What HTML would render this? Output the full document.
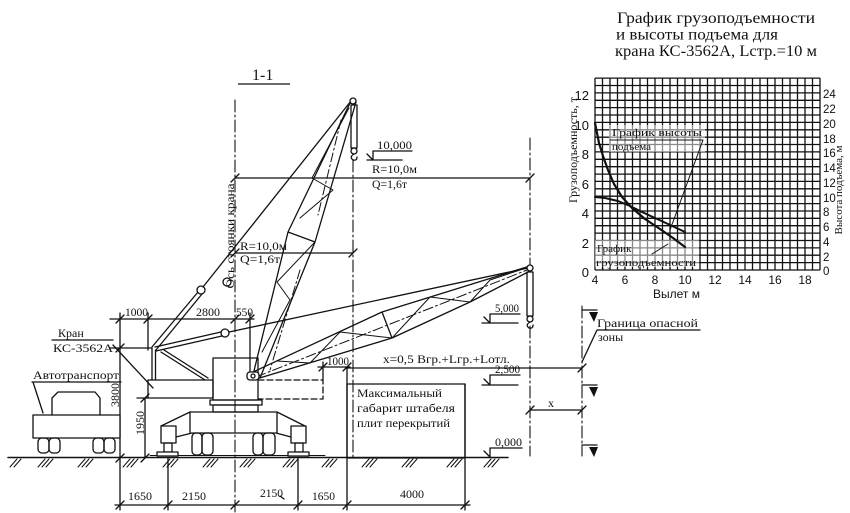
<!DOCTYPE html>
<html><head><meta charset="utf-8">
<style>
html,body{margin:0;padding:0;background:#fff;}
svg{display:block}
text{font-family:"Liberation Serif","DejaVu Serif",serif;fill:#111}
.s{font-family:"Liberation Sans","DejaVu Sans",sans-serif}
</style></head><body>
<svg width="850" height="513" viewBox="0 0 850 513" xmlns="http://www.w3.org/2000/svg">
<rect width="850" height="513" fill="#fff"/>

<!-- ===== CHART ===== -->
<g stroke="#111" stroke-width="1.3" fill="none">
<path d="M595 78V270M602.5 78V270M610 78V270M617.5 78V270M625 78V270M632.5 78V270M640 78V270M647.5 78V270M655 78V270M662.5 78V270M670 78V270M677.5 78V270M685 78V270M692.5 78V270M700 78V270M707.5 78V270M715 78V270M722.5 78V270M730 78V270M737.5 78V270M745 78V270M752.5 78V270M760 78V270M767.5 78V270M775 78V270M782.5 78V270M790 78V270M797.5 78V270M805 78V270M812.5 78V270M820 78V270"/>
<path d="M595 270H820M595 262.6H820M595 255.2H820M595 247.9H820M595 240.5H820M595 233.1H820M595 225.7H820M595 218.3H820M595 211H820M595 203.6H820M595 196.2H820M595 188.8H820M595 181.4H820M595 174.1H820M595 166.7H820M595 159.3H820M595 151.9H820M595 144.5H820M595 137.2H820M595 129.8H820M595 122.4H820M595 115H820M595 107.6H820M595 100.3H820M595 92.9H820M595 85.5H820M595 78.1H820"/>
</g>
<!-- label backgrounds -->
<rect x="609" y="125" width="96" height="27" fill="#fff" opacity="0.5"/>
<rect x="595" y="240" width="104" height="27" fill="#fff" opacity="0.5"/>
<g stroke="#111" fill="none" stroke-linecap="round" stroke-linejoin="round">
<path stroke-width="2.2" d="M595 123 L599 143 L603 156 L608 170 L614 184 L622 197 L632 208 L645 219 L660 229 L673 238 L685 247"/>
<path stroke-width="2" d="M595 197 L605 198 L618 201 L630 206 L642 212 L655 218 L668 224 L685 232"/>
<path stroke-width="1" d="M610 140 H703 L670 230 M652 254 L668 244"/>
</g>
<text x="612" y="136" font-size="11" textLength="90" lengthAdjust="spacingAndGlyphs">График высоты</text>
<text x="612" y="150" font-size="11">подъема</text>
<text x="597" y="252" font-size="11">График</text>
<text x="596" y="266" font-size="11" textLength="100" lengthAdjust="spacingAndGlyphs">грузоподъемности</text>

<g class="s" font-size="13" text-anchor="end">
<text class="s" x="589" y="277">0</text>
<text class="s" x="589" y="248">2</text>
<text class="s" x="589" y="218">4</text>
<text class="s" x="589" y="189">6</text>
<text class="s" x="589" y="159">8</text>
<text class="s" x="589" y="130">10</text>
<text class="s" x="589" y="100">12</text>
</g>
<g font-size="11.5">
<text class="s" x="823" y="275">0</text>
<text class="s" x="823" y="261">2</text>
<text class="s" x="823" y="246">4</text>
<text class="s" x="823" y="231">6</text>
<text class="s" x="823" y="216">8</text>
<text class="s" x="823" y="202">10</text>
<text class="s" x="823" y="187">12</text>
<text class="s" x="823" y="172">14</text>
<text class="s" x="823" y="157">16</text>
<text class="s" x="823" y="143">18</text>
<text class="s" x="823" y="128">20</text>
<text class="s" x="823" y="113">22</text>
<text class="s" x="823" y="98">24</text>
</g>
<g font-size="12" text-anchor="middle">
<text class="s" x="595" y="284">4</text>
<text class="s" x="625" y="284">6</text>
<text class="s" x="655" y="284">8</text>
<text class="s" x="685" y="284">10</text>
<text class="s" x="715" y="284">12</text>
<text class="s" x="745" y="284">14</text>
<text class="s" x="775" y="284">16</text>
<text class="s" x="805" y="284">18</text>
</g>
<text class="s" x="653" y="298" font-size="12">Вылет  м</text>
<text x="0" y="0" font-size="12" text-anchor="middle" transform="translate(577,150) rotate(-90)" textLength="106" lengthAdjust="spacingAndGlyphs">Грузоподъемность, т</text>
<text x="0" y="0" font-size="11" text-anchor="middle" transform="translate(842,190) rotate(-90)" fill="#555">Высота подъема, м</text>

<text x="617" y="23" font-size="16" textLength="198" lengthAdjust="spacingAndGlyphs">График грузоподъемности</text>
<text x="616" y="39.5" font-size="16" textLength="162" lengthAdjust="spacingAndGlyphs">и высоты подъема для</text>
<text x="615" y="56" font-size="16" textLength="202" lengthAdjust="spacingAndGlyphs">крана КС-3562А, Lстр.=10 м</text>

<!-- ===== MAIN DRAWING ===== -->
<text x="252" y="80" font-size="16">1-1</text>
<path d="M238 84H290" stroke="#111" stroke-width="1.3"/>

<g stroke="#111" stroke-width="1.3" fill="none" stroke-linecap="round" stroke-linejoin="round">
<!-- ground -->
<path d="M8 457.5H508" stroke-width="1.5"/>
<path d="M150 455.5H325" stroke-width="1"/>
<!-- hatches -->
<path stroke-width="1" d="
M10 467l7-8M14 467l7-8
M38 467l7-8M42 467l7-8M46 467l7-8
M78 467l7-8M82 467l7-8M86 467l7-8
M123 467l7-8M127 467l7-8M131 467l7-8
M163 467l7-8M167 467l7-8M171 467l7-8
M203 467l7-8M207 467l7-8M211 467l7-8
M240 467l7-8M244 467l7-8M248 467l7-8
M283 467l7-8M287 467l7-8M291 467l7-8
M322 467l7-8M326 467l7-8M330 467l7-8
M362 467l7-8M366 467l7-8M370 467l7-8
M402 467l7-8M406 467l7-8M410 467l7-8
M447 467l7-8M451 467l7-8M455 467l7-8
M484 467l7-8M488 467l7-8M492 467l7-8"/>

<!-- bottom dimension -->
<path d="M115 505H470"/>
<path d="M120 313V510M168 458V510M298 458V510M347 368V510M465 384V510"/>
<path d="M116 509l8-8M164 509l8-8M231 509l8-8M294 509l8-8M343 509l8-8M461 509l8-8"/>
<path d="M284 499l-4-3"/>

<!-- top dimension 1000 2800 550 -->
<path d="M110 319H254M148 313V350M250 313V374"/>
<path d="M116 323l8-8M144 323l8-8M231 323l8-8M246 323l8-8"/>
<!-- 3800 -->
<path d="M110 348H152M116 352l8-8M116 462l8-8"/>
<!-- 1950 -->
<path d="M137 398H148M145 398V458M141 402l8-8M141 462l8-8"/>
<!-- Kran leader -->
<path d="M52 340H113M113 345L153 388"/>
<!-- Avtotransport -->
<path d="M32 382H121M33 382L43 413"/>

<!-- truck -->
<rect x="33" y="415" width="87" height="23" fill="#fff"/>
<path d="M52 415V398L58 392H95L100 398V415"/>
<rect x="38" y="438" width="11" height="15" rx="4"/>
<rect x="49" y="438" width="11" height="15" rx="4"/>
<rect x="93" y="438" width="11" height="15" rx="4"/>
<rect x="104" y="438" width="11" height="15" rx="4"/>

<!-- crane base -->
<path d="M190 412H277L305 426M190 412L161 426M190 412V433M277 412V433M176 437L192 433H276L291 437"/>
<rect x="161" y="426" width="15" height="17" fill="#fff"/>
<rect x="291" y="426" width="15" height="17" fill="#fff"/>
<rect x="164" y="443" width="8" height="9"/>
<rect x="295" y="443" width="8" height="9"/>
<rect x="157" y="452" width="21" height="4" fill="#fff"/>
<rect x="288" y="452" width="21" height="4" fill="#fff"/>
<rect x="192" y="433" width="10" height="22" rx="4"/>
<rect x="202" y="433" width="11" height="22" rx="4"/>
<rect x="253" y="433" width="10" height="22" rx="4"/>
<rect x="263" y="433" width="12" height="22" rx="4"/>
<!-- cabin & platform -->
<rect x="148" y="380" width="65" height="18"/>
<rect x="213" y="358" width="45" height="42"/>
<rect x="210" y="400" width="52" height="5"/>
<rect x="213" y="405" width="45" height="7"/>
<path d="M258 380H323V399H258" stroke-dasharray="6 3"/>
<path d="M323 362V380"/>
<!-- A-frame -->
<path d="M152 348V380M155.5 350V380"/>
<path d="M161 352L205 380M164 350L208 378"/>
<path d="M152 347L198 292M156 350L202 294"/>
<circle cx="201" cy="290" r="4" fill="#fff"/>
<circle cx="227" cy="282" r="4" fill="#fff"/>
<path d="M155 347L221 332M156 351L222 336"/>
<circle cx="225" cy="333" r="4" fill="#fff"/>
<!-- ropes -->
<path d="M203 287L351 101"/>
<path d="M229 332L528 268"/>

<!-- raised boom -->
<path d="M351 101L288 232L253 375M356 102L315 242L260 378M288 232L315 242"/>
<path d="M349 108L312 178L333 190L300 218M315 242L277 282L290 300L262 352" stroke-width="1"/>
<path d="M341 120L318 215M300 270L270 370" stroke-width="1" stroke-dasharray="9 3 2 3"/>
<circle cx="353" cy="101" r="3" fill="#fff"/>
<rect x="351" y="105" width="6" height="43"/>
<circle cx="354" cy="151" r="3"/>
<path d="M354 154q-5 3-1 6q4 1 4-3"/>

<!-- lowered boom -->
<path d="M253 372L382 312L530 266M253 380L392 338L470 302L530 271M382 312L392 338"/>
<path d="M277 361L310 363L340 332L392 338M392 338L430 297L470 302L490 280L520 270" stroke-width="1"/>
<path d="M256 377L527 270" stroke-width="1" stroke-dasharray="10 3 2 3"/>
<rect x="247" y="372" width="12" height="8" rx="3" fill="#fff"/>
<circle cx="253" cy="376" r="2"/>
<circle cx="530" cy="268" r="3" fill="#fff"/>
<rect x="527" y="272" width="6" height="44"/>
<circle cx="530" cy="319" r="3"/>
<path d="M530 322q-5 3-1 6q4 1 4-3"/>

<!-- center axes (dash-dot) -->
<g stroke-dasharray="12 3 2 3" stroke-width="1.1">
<path d="M235 100V512"/>
<path d="M353 160V458"/>
<path d="M530 138V265M530 326V456"/>
<path d="M582 306V456"/>
</g>

<!-- R dims -->
<path d="M235 178H530M231 182l8-8M526 182l8-8"/>
<path d="M235 253H353M231 257l8-8M349 257l8-8"/>

<!-- level marks -->
<path d="M373 151H412M373 151V160M367 154L373 160M367 160H402"/>
<path d="M490 314H520M490 314V323M484 317L490 323M482 323H518"/>
<path d="M490 375H520M490 375V385M484 379L490 385M482 385H518"/>
<path d="M490 448H522M490 448V457M484 451L490 457"/>

<!-- right dims -->
<path d="M318 367H350M319 371l8-8M343 371l8-8"/>
<path d="M347 368H582M578 372l8-8"/>
<rect x="347" y="384" width="118" height="74" fill="none"/>
<path d="M530 410H582M526 414l8-8M578 414l8-8"/>
<!-- zone border -->
<path d="M582 310H597M582 385H597M582 445H597"/>
<path d="M597 330H700M597 330L582 362"/>
</g>
<g fill="#111">
<path d="M589 312H598L594 322Z"/>
<path d="M589 387H598L594 397Z"/>
<path d="M589 447H598L594 457Z"/>
</g>

<!-- texts -->
<g font-size="12">
<text x="125" y="316" textLength="23" lengthAdjust="spacingAndGlyphs">1000</text>
<text x="196" y="316" textLength="24" lengthAdjust="spacingAndGlyphs">2800</text>
<text x="236" y="316" textLength="17" lengthAdjust="spacingAndGlyphs">550</text>
<text x="58" y="337">Кран</text>
<text x="53" y="352" textLength="60" lengthAdjust="spacingAndGlyphs">КС-3562А</text>
<text x="33" y="379" textLength="86" lengthAdjust="spacingAndGlyphs">Автотранспорт</text>
<text x="0" y="0" transform="translate(119,395) rotate(-90)" text-anchor="middle">3800</text>
<text x="0" y="0" transform="translate(144,423) rotate(-90)" text-anchor="middle">1950</text>
<text x="0" y="0" transform="translate(234,236) rotate(-90)" text-anchor="middle" textLength="105" lengthAdjust="spacingAndGlyphs">Ось стоянки крана</text>
<text x="128" y="500" textLength="24" lengthAdjust="spacingAndGlyphs">1650</text>
<text x="182" y="500" textLength="24" lengthAdjust="spacingAndGlyphs">2150</text>
<text x="260" y="497" textLength="23" lengthAdjust="spacingAndGlyphs">2150</text>
<text x="312" y="500" textLength="23" lengthAdjust="spacingAndGlyphs">1650</text>
<text x="400" y="498" textLength="24" lengthAdjust="spacingAndGlyphs">4000</text>
<text x="377" y="149" textLength="35" lengthAdjust="spacingAndGlyphs">10,000</text>
<text x="372" y="173" textLength="45" lengthAdjust="spacingAndGlyphs">R=10,0м</text>
<text x="372" y="188" textLength="35" lengthAdjust="spacingAndGlyphs">Q=1,6т</text>
<text x="240" y="250" textLength="47" lengthAdjust="spacingAndGlyphs">R=10,0м</text>
<text x="240" y="263" textLength="40" lengthAdjust="spacingAndGlyphs">Q=1,6т</text>
<text x="327" y="365" textLength="22" lengthAdjust="spacingAndGlyphs">1000</text>
<text x="383" y="363" textLength="127" lengthAdjust="spacingAndGlyphs">x=0,5 Bгр.+Lгр.+Lотл.</text>
<text x="495" y="312" textLength="24" lengthAdjust="spacingAndGlyphs">5,000</text>
<text x="495" y="373" textLength="25" lengthAdjust="spacingAndGlyphs">2,500</text>
<text x="495" y="446" textLength="27" lengthAdjust="spacingAndGlyphs">0,000</text>
<text x="357" y="397" textLength="85" lengthAdjust="spacingAndGlyphs">Максимальный</text>
<text x="357" y="412" textLength="98" lengthAdjust="spacingAndGlyphs">габарит штабеля</text>
<text x="357" y="427" textLength="93" lengthAdjust="spacingAndGlyphs">плит перекрытий</text>
<text x="597" y="327" textLength="101" lengthAdjust="spacingAndGlyphs">Граница опасной</text>
<text x="598" y="341">зоны</text>
<text x="548" y="407">x</text>
</g>
</svg>
</body></html>
